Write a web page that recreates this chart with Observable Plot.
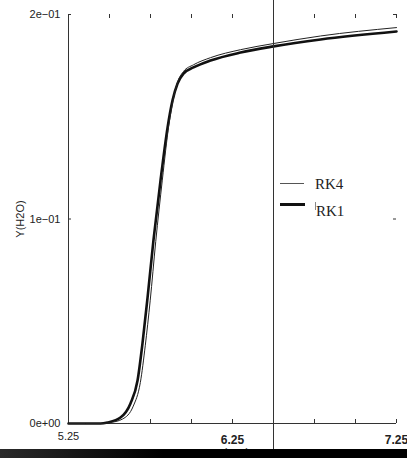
<!DOCTYPE html>
<html><head><meta charset="utf-8">
<script src="https://cdn.jsdelivr.net/npm/d3@7"></script>
<script src="https://cdn.jsdelivr.net/npm/@observablehq/plot@0.6"></script>
<style>
body{margin:0;background:#fff}
#chart{position:relative;width:407px;height:458px;overflow:hidden}
#chart svg{position:absolute;left:0;top:0}
.lg{position:absolute;font-family:"Liberation Serif",serif;font-size:15px;color:#222}
</style>
</head><body><div id="chart"></div>
<script>
// Data
const xRK1 = [5.25, 5.445, 5.488, 5.567, 5.628, 5.671, 5.701, 5.732, 5.768, 5.811, 5.854, 5.884, 5.915, 5.951, 6.012, 6.116, 6.299, 6.5, 6.787, 7.25];
const yRK1 = [0, 0, 0.0005, 0.0029, 0.0098, 0.0210, 0.0391, 0.0616, 0.0895, 0.1188, 0.1447, 0.1579, 0.1663, 0.1711, 0.1741, 0.1775, 0.1814, 0.1844, 0.1878, 0.1917];
const xRK4 = [5.25, 5.46, 5.50, 5.58, 5.645, 5.688, 5.718, 5.748, 5.782, 5.822, 5.862, 5.890, 5.918, 5.952, 6.012, 6.116, 6.299, 6.5, 6.787, 7.25];
const yRK4 = [0, 0, 0.0004, 0.0022, 0.0085, 0.020, 0.038, 0.060, 0.089, 0.119, 0.146, 0.159, 0.1675, 0.1722, 0.1754, 0.1789, 0.1828, 0.1858, 0.1895, 0.1936];
const xTickLabelsRegular = [5.25];
const xTickLabelsBold = [6.25, 7.25];
const xTicksTop = [5.5, 5.75, 6.0, 6.25, 6.5, 6.75, 7.0, 7.25];
const xTicksBottom = [5.75, 6.0, 6.25, 6.5, 6.75, 7.0, 7.25];
const yTicks = [0, 0.1, 0.2];
const yTickLabels = ["0e+00", "1e\u221201", "2e\u221201"];
const markerX = [6.5];

const W = 407, H = 458, mL = 68, mR = 11, mT = 14, mB = 35;
const fW = W - mL - mR, fH = H - mT - mB;
const rk1 = xRK1.map((x, i) => ({x, y: yRK1[i]}));
const rk4 = xRK4.map((x, i) => ({x, y: yRK4[i]}));
const font = "'Liberation Sans', Arial, sans-serif";

const plot = Plot.plot({
  width: W, height: H,
  marginLeft: mL, marginRight: mR, marginTop: mT, marginBottom: mB,
  style: {fontFamily: font, fontSize: "11px", color: "#222", background: "transparent"},
  x: {domain: [5.25, 7.25]},
  y: {domain: [0, 0.2]},
  marks: [
    Plot.axisY(yTicks, {anchor: "left", tickSize: 0, tickPadding: 8, fontSize: 11, tickFormat: d => yTickLabels[yTicks.indexOf(d)], label: "Y(H2O)", labelAnchor: "center", labelOffset: 52, labelArrow: "none"}),
    Plot.axisX(xTickLabelsRegular, {anchor: "bottom", tickSize: 0, tickPadding: 9, fontSize: 11, tickFormat: d => d.toFixed(2), label: null}),
    Plot.axisX(xTickLabelsBold, {anchor: "bottom", tickSize: 0, tickPadding: 12, fontSize: 12, fontWeight: "bold", tickFormat: d => d.toFixed(2), label: null}),
    Plot.ruleX([5.25], {stroke: "#333"}),
    Plot.ruleY([0], {stroke: "#333"}),
    Plot.ruleX(xTicksTop, {stroke: "#333", insetBottom: fH - 4}),
    Plot.ruleX(xTicksBottom, {stroke: "#333", insetTop: fH - 4}),
    Plot.ruleY(yTicks, {stroke: "#333", insetLeft: fW - 3}),
    Plot.ruleY(yTicks, {stroke: "#333", insetRight: fW - 3}),
    Plot.line(rk1, {x: "x", y: "y", stroke: "#111", strokeWidth: 2.6, curve: "monotone-x"}),
    Plot.line(rk4, {x: "x", y: "y", stroke: "#222", strokeWidth: 1, curve: "monotone-x"}),
    Plot.ruleX(markerX, {stroke: "#333", strokeWidth: 1, insetTop: -mT, insetBottom: -29})
  ]
});
const chart = document.getElementById("chart");
chart.appendChild(plot);

// x-axis title, mostly hidden behind the bottom bar
const xl = document.createElement("div");
xl.textContent = "x (mm)";
Object.assign(xl.style, {position: "absolute", left: "212px", top: "446px", width: "40px", textAlign: "center", fontFamily: font, fontSize: "11px", color: "#333"});
chart.appendChild(xl);
const bar = document.createElement("div");
Object.assign(bar.style, {position: "absolute", left: "0", top: "449px", width: W + "px", height: "10px", background: "linear-gradient(to right,#2a2a2a,#000 40%)"});
chart.appendChild(bar);

// legend
const l1 = document.createElement("div");
Object.assign(l1.style, {position: "absolute", left: "280px", top: "183px", width: "24px", height: "1px", background: "#555"});
chart.appendChild(l1);
const l2 = document.createElement("div");
Object.assign(l2.style, {position: "absolute", left: "280px", top: "203px", width: "25px", height: "3px", background: "#111"});
chart.appendChild(l2);
const t1 = document.createElement("div"); t1.className = "lg"; t1.textContent = "RK4";
Object.assign(t1.style, {left: "315px", top: "176px"});
chart.appendChild(t1);
const t2 = document.createElement("div"); t2.className = "lg"; t2.textContent = "RK1";
Object.assign(t2.style, {left: "316px", top: "203px"});
chart.appendChild(t2);
const cur = document.createElement("div");
Object.assign(cur.style, {position: "absolute", left: "315px", top: "202px", width: "1px", height: "8px", background: "#888"});
chart.appendChild(cur);
</script>
</body></html>
